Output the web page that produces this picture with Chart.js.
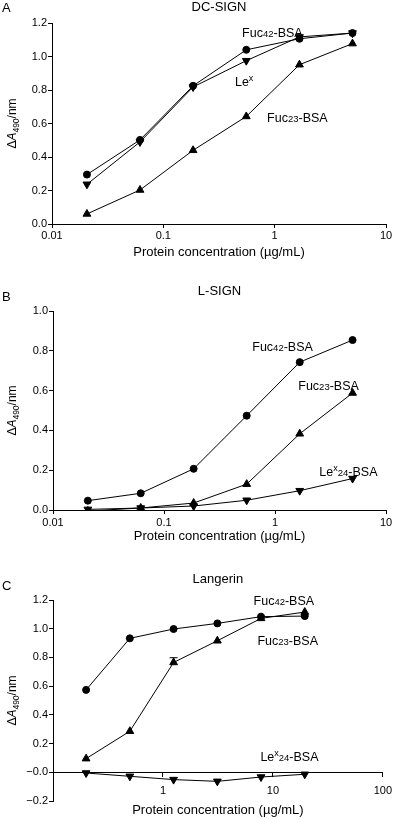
<!DOCTYPE html>
<html>
<head>
<meta charset="utf-8">
<script src="https://cdn.jsdelivr.net/npm/chart.js@4.4.0/dist/chart.umd.min.js"></script>
<style>
  body { margin: 0; background: #fff; }
  #wrap { position: relative; width: 400px; height: 819px; background: #fff; }
  canvas { position: absolute; left: 0; }
</style>
</head>
<body>
<div id="wrap">
  <canvas id="chartA" width="400" height="265" style="top:0px"></canvas>
  <canvas id="chartB" width="400" height="280" style="top:270px"></canvas>
  <canvas id="chartC" width="400" height="269" style="top:550px"></canvas>
</div>
<script>
// concentrations (ug/mL), 3-fold dilutions in A/B, 2.5-fold in C
const concAB = [0.0206, 0.0617, 0.185, 0.556, 1.67, 5];
const concC = [0.2, 0.5, 1.25, 3.125, 7.8, 19.5];

// x tick values + labels
const xTicksAB = [0.01, 0.1, 1, 10];
const xTickLabelsAB = ['0.01', '0.1', '1', '10'];
const xTicksC = [1, 10, 100];
const xTickLabelsC = ['1', '10', '100'];

// A: DC-SIGN
const dcFuc42 = [0.295, 0.502, 0.825, 1.04, 1.106, 1.14];
const dcLex = [0.237, 0.49, 0.818, 0.975, 1.117, 1.14];
const dcFuc23 = [0.06, 0.203, 0.44, 0.642, 0.951, 1.077];

// B: L-SIGN
const lFuc42 = [0.047, 0.084, 0.207, 0.474, 0.743, 0.854];
const lFuc23 = [-0.005, 0.01, 0.035, 0.13, 0.383, 0.588];
const lLex24 = [0.003, 0.01, 0.02, 0.049, 0.097, 0.158];

// C: Langerin
const langFuc42 = [0.574, 0.933, 0.998, 1.037, 1.084, 1.088];
const langFuc23 = [0.095, 0.286, 0.765, 0.916, 1.072, 1.116];
const langFuc23Err = [0, 0, 0.033, 0, 0, 0];
const langLex24 = [-0.005, -0.028, -0.051, -0.063, -0.033, -0.014];

const FONT = '"Liberation Sans", Arial, Helvetica, sans-serif';
Chart.defaults.font.family = FONT;
Chart.defaults.color = '#000';

// rich text pieces: [text, size, dy, italic]
const FUC42 = [['Fuc', 12.5, 0], ['42', 9.5, 0], ['-BSA', 12.5, 0]];
const FUC23 = [['Fuc', 12.5, 0], ['23', 9.5, 0], ['-BSA', 12.5, 0]];
const LEX = [['Le', 12.5, 0], ['x', 9, -5]];
const LEX24 = [['Le', 12.5, 0], ['x', 9, -5], ['24', 9.5, 0], ['-BSA', 12.5, 0]];
const YTITLE = [['\u0394', 12, 0], ['A', 12, 0, true], ['490', 8.5, 3], ['/nm', 12, 0]];

function setFont(ctx, p) {
  ctx.font = (p[3] ? 'italic ' : '') + p[1] + 'px ' + FONT;
}

function richWidth(ctx, parts) {
  let w = 0;
  parts.forEach(p => { setFont(ctx, p); w += ctx.measureText(p[0]).width; });
  return w;
}

function drawRich(ctx, parts, x, y) {
  ctx.textAlign = 'left';
  ctx.textBaseline = 'alphabetic';
  let cx = x;
  parts.forEach(p => {
    setFont(ctx, p);
    ctx.fillText(p[0], cx, y + p[2]);
    cx += ctx.measureText(p[0]).width;
  });
}

function series(label, conc, values, style, errors) {
  return {
    label: label,
    data: conc.map((c, i) => ({ x: c, y: values[i] })),
    errors: errors,
    borderColor: '#000',
    backgroundColor: '#000',
    borderWidth: 1,
    pointStyle: style === 'circle' ? 'circle' : 'triangle',
    rotation: style === 'down' ? 180 : 0,
    pointRadius: style === 'circle' ? 3.5 : 4.5,
    pointBorderWidth: 1,
    tension: 0
  };
}

// panel letter, title, y title, annotations, error bars
function decor(cfg) {
  return {
    id: 'decor',
    afterDatasetsDraw(chart) {
      const ctx = chart.ctx;
      const xs = chart.scales.x, ys = chart.scales.y;
      ctx.save();
      ctx.strokeStyle = '#000';
      ctx.lineWidth = 1;
      chart.data.datasets.forEach(ds => {
        if (!ds.errors) return;
        ds.data.forEach((pt, i) => {
          const e = ds.errors[i];
          if (!e) return;
          const px = xs.getPixelForValue(pt.x);
          const y1 = ys.getPixelForValue(pt.y);
          const y2 = ys.getPixelForValue(pt.y + e);
          ctx.beginPath();
          ctx.moveTo(px, y1); ctx.lineTo(px, y2);
          ctx.moveTo(px - 4, y2); ctx.lineTo(px + 4, y2);
          ctx.stroke();
        });
      });
      ctx.restore();
    },
    afterDraw(chart) {
      const ctx = chart.ctx;
      const area = chart.chartArea;
      const xs = chart.scales.x, ys = chart.scales.y;
      ctx.save();
      ctx.fillStyle = '#000';
      ctx.textBaseline = 'middle';
      ctx.font = '13px ' + FONT;
      ctx.textAlign = 'left';
      ctx.fillText(cfg.letter, 2, cfg.letterY);
      ctx.textAlign = 'center';
      ctx.fillText(cfg.title, (area.left + area.right) / 2, cfg.titleY);
      if (cfg.xTitleY) {
        ctx.fillText('Protein concentration (\u00b5g/mL)', (area.left + area.right) / 2, cfg.xTitleY);
      }

      // rotated y title
      ctx.save();
      ctx.translate(12, (area.top + area.bottom) / 2);
      ctx.rotate(-Math.PI / 2);
      drawRich(ctx, YTITLE, -richWidth(ctx, YTITLE) / 2, 4);
      ctx.restore();

      cfg.notes.forEach(n => {
        drawRich(ctx, n.parts, xs.getPixelForValue(n.x), ys.getPixelForValue(n.y) + 4.5);
      });
      ctx.restore();
    }
  };
}

function makePanel(id, cfg) {
  const xScale = {
    type: 'logarithmic',
    min: cfg.xMin,
    max: cfg.xMax,
    position: cfg.xPosition || 'bottom',
    afterBuildTicks: (scale) => { scale.ticks = cfg.xTicks.map(v => ({ value: v })); },
    afterFit: (scale) => { if (cfg.xHeight) scale.height = cfg.xHeight; },
    ticks: {
      autoSkip: false,
      maxRotation: 0,
      padding: cfg.xTickPad,
      font: { size: 11 },
      callback: (v, i) => cfg.xTickLabels[i]
    },
    grid: { drawOnChartArea: false, drawTicks: true, tickLength: 4, color: '#000' },
    border: { display: true, color: '#000', width: 1 },
    title: {
      display: !cfg.xTitleY,
      text: 'Protein concentration (\u00b5g/mL)',
      font: { size: 13 },
      padding: { top: 0, bottom: cfg.xTitlePad || 0 }
    }
  };

  new Chart(document.getElementById(id), {
    type: 'line',
    data: { datasets: cfg.datasets },
    options: {
      responsive: false,
      animation: false,
      devicePixelRatio: 1,
      layout: { padding: cfg.padding },
      plugins: { legend: { display: false }, tooltip: { enabled: false } },
      scales: {
        x: xScale,
        y: {
          type: 'linear',
          min: cfg.yMin,
          max: cfg.yMax,
          afterFit: (scale) => { scale.width = cfg.yWidth; },
          ticks: {
            stepSize: 0.2,
            padding: 1,
            font: { size: 11 },
            callback: (v) => v.toFixed(1).replace('-', '\u2212')
          },
          grid: { drawOnChartArea: false, drawTicks: true, tickLength: 4, color: '#000' },
          border: { display: true, color: '#000', width: 1 }
        }
      }
    },
    plugins: [decor(cfg)]
  });
}

makePanel('chartA', {
  letter: 'A', letterY: 8, title: 'DC-SIGN', titleY: 7,
  xMin: 0.01, xMax: 10, xTicks: xTicksAB, xTickLabels: xTickLabelsAB,
  xHeight: 41, xTickPad: 1, xTitlePad: 5,
  yMin: 0, yMax: 1.2, yWidth: 52,
  padding: { top: 23, right: 14, bottom: 0, left: 0 },
  datasets: [
    series('Fuc42-BSA', concAB, dcFuc42, 'circle'),
    series('Lex', concAB, dcLex, 'down'),
    series('Fuc23-BSA', concAB, dcFuc23, 'up')
  ],
  notes: [
    { parts: FUC42, x: 0.51, y: 1.142 },
    { parts: LEX, x: 0.44, y: 0.849 },
    { parts: FUC23, x: 0.855, y: 0.634 }
  ]
});

makePanel('chartB', {
  letter: 'B', letterY: 27, title: 'L-SIGN', titleY: 21,
  xMin: 0.01, xMax: 10, xTicks: xTicksAB, xTickLabels: xTickLabelsAB,
  xHeight: 40, xTickPad: 2, xTitlePad: 5.5,
  yMin: 0, yMax: 1.0, yWidth: 53,
  padding: { top: 41, right: 14, bottom: 0, left: 0 },
  datasets: [
    series('Fuc42-BSA', concAB, lFuc42, 'circle'),
    series('Fuc23-BSA', concAB, lFuc23, 'up'),
    series('Lex24-BSA', concAB, lLex24, 'down')
  ],
  notes: [
    { parts: FUC42, x: 0.624, y: 0.824 },
    { parts: FUC23, x: 1.62, y: 0.628 },
    { parts: LEX24, x: 2.51, y: 0.193 }
  ]
});

makePanel('chartC', {
  letter: 'C', letterY: 36, title: 'Langerin', titleY: 29,
  xMin: 0.1, xMax: 100, xTicks: xTicksC, xTickLabels: xTickLabelsC,
  xPosition: { y: 0 }, xTickPad: 8, xTitleY: 260,
  yMin: -0.2, yMax: 1.2, yWidth: 53,
  padding: { top: 50, right: 10, bottom: 18, left: 0 },
  datasets: [
    series('Fuc42-BSA', concC, langFuc42, 'circle'),
    series('Fuc23-BSA', concC, langFuc23, 'up', langFuc23Err),
    series('Lex24-BSA', concC, langLex24, 'down')
  ],
  notes: [
    { parts: FUC42, x: 6.67, y: 1.196 },
    { parts: FUC23, x: 7.24, y: 0.916 },
    { parts: LEX24, x: 7.7, y: 0.109 }
  ]
});
</script>
</body>
</html>
